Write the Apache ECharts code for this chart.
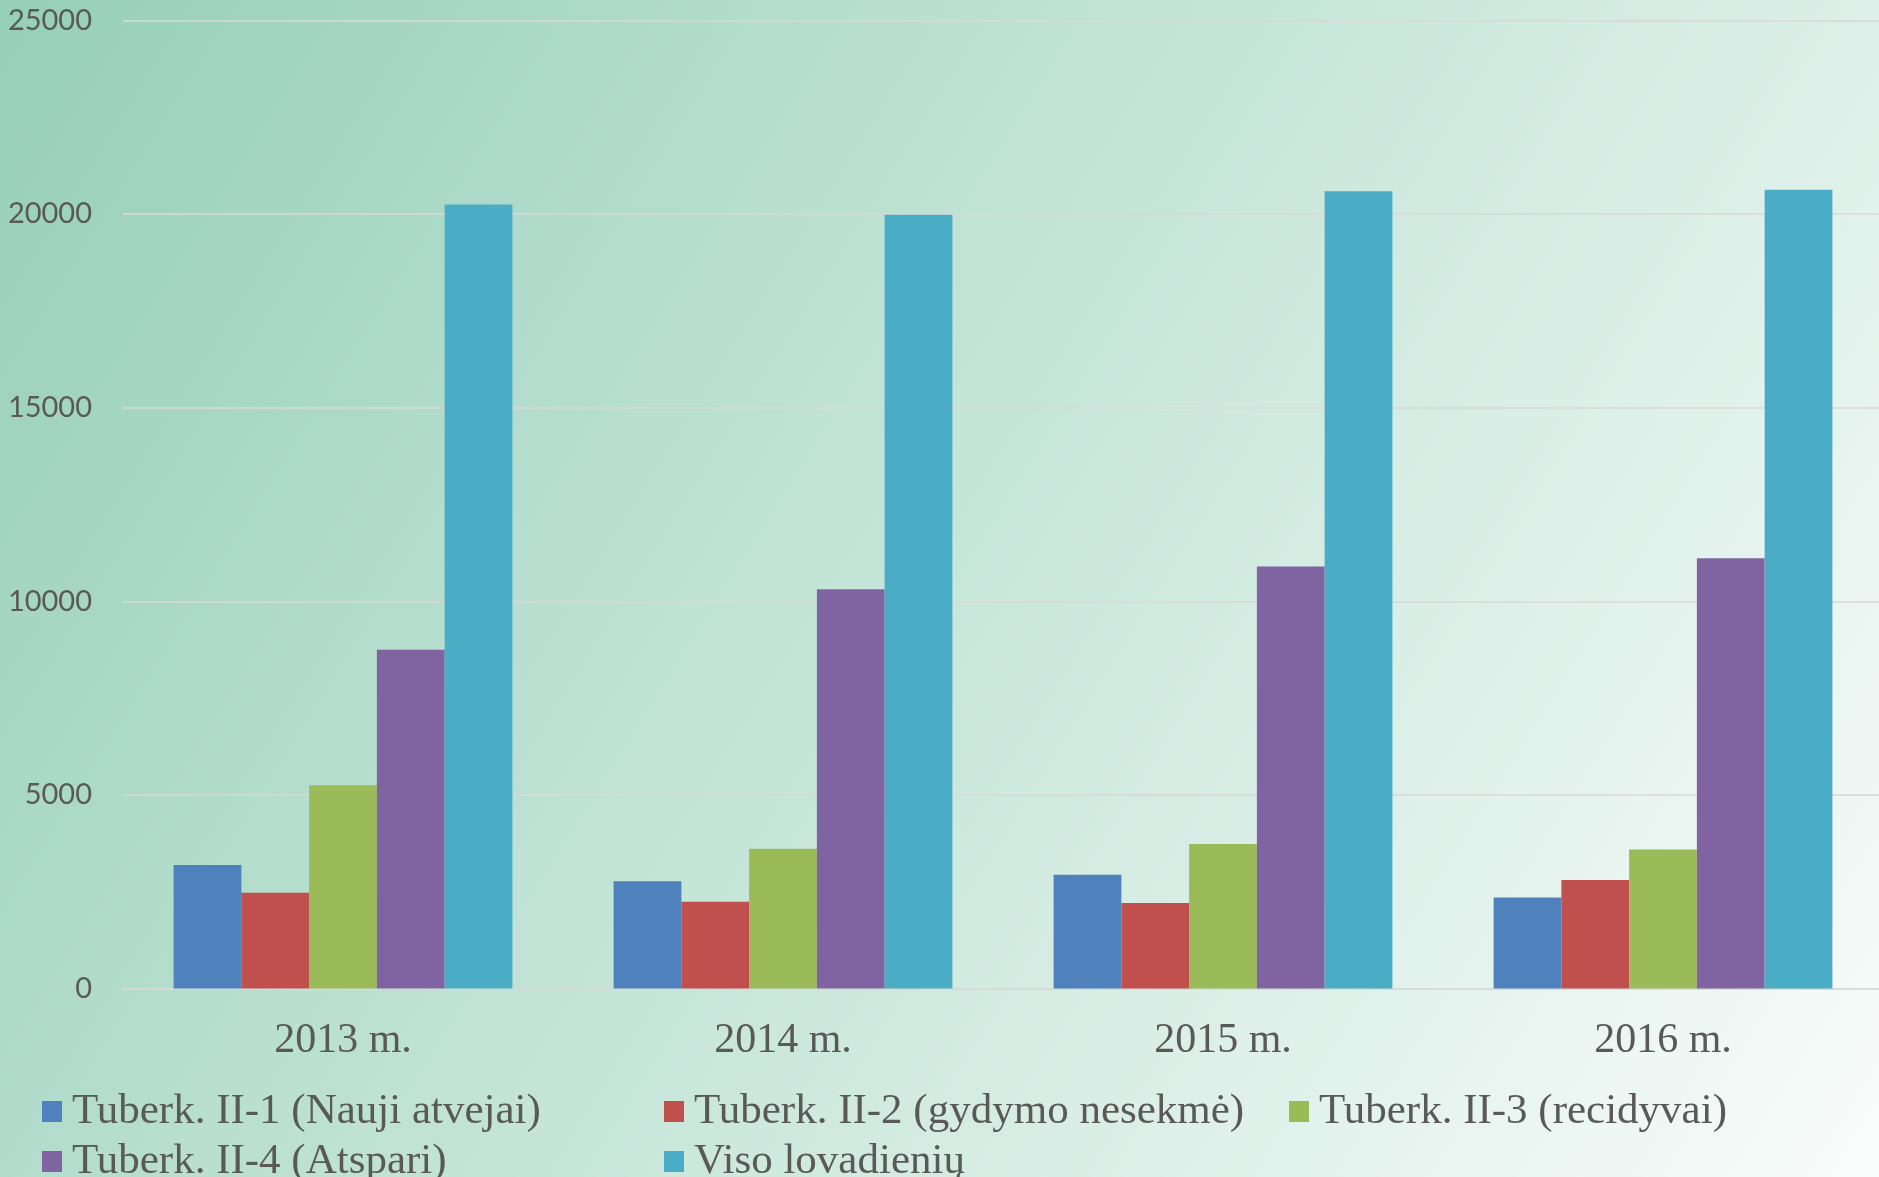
<!DOCTYPE html>
<html>
<head>
<meta charset="utf-8">
<script src="https://cdn.jsdelivr.net/npm/echarts@6/dist/echarts.min.js"></script>
<style>
html,body{margin:0;padding:0;}
#chart{width:1879px;height:1177px;}
</style>
</head>
<body>
<div id="chart"></div>
<script>
var categories = ['2013 m.', '2014 m.', '2015 m.', '2016 m.'];
var seriesNames = ['Tuberk. II-1 (Nauji atvejai)', 'Tuberk. II-2 (gydymo nesekmė)', 'Tuberk. II-3 (recidyvai)', 'Tuberk. II-4 (Atspari)', 'Viso lovadienių'];
var naujiAtvejai = [3190, 2770, 2940, 2350];
var gydymoNesekme = [2470, 2240, 2210, 2800];
var recidyvai = [5250, 3610, 3730, 3590];
var atspari = [8750, 10310, 10900, 11110];
var visoLovadieniu = [20250, 19980, 20590, 20630];
var yTicks = [0, 5000, 10000, 15000, 20000, 25000];

var colors = ['#4f81bd', '#c0504d', '#9bbb59', '#8064a2', '#4bacc6'];
var values = [naujiAtvejai, gydymoNesekme, recidyvai, atspari, visoLovadieniu];

var chart = echarts.init(document.getElementById('chart'));

var legendPos = [
  {left: 42, top: 1090},
  {left: 664, top: 1090},
  {left: 1289, top: 1090},
  {left: 42, top: 1140},
  {left: 664, top: 1140}
];

var legends = seriesNames.map(function (n, i) {
  return {
    data: [n],
    left: legendPos[i].left,
    top: legendPos[i].top,
    padding: 0,
    icon: 'rect',
    itemWidth: 20,
    itemHeight: 21,
    selectedMode: false,
    textStyle: {
      fontFamily: 'Liberation Serif',
      fontSize: 43,
      color: '#595959',
      padding: [0, 0, 0, 5]
    }
  };
});

var series = seriesNames.map(function (n, i) {
  return {
    name: n,
    type: 'bar',
    data: values[i],
    barGap: '0%',
    barCategoryGap: '23%',
    itemStyle: {color: colors[i]},
    animation: false
  };
});

chart.setOption({
  backgroundColor: new echarts.graphic.LinearGradient(0, 0, 1, 1, [
    {offset: 0, color: '#96cfb8'},
    {offset: 0.5, color: '#c7e6da'},
    {offset: 1, color: '#f9fcfb'}
  ]),
  animation: false,
  color: colors,
  legend: legends,
  grid: {
    left: 123,
    right: -4,
    top: 20.5,
    bottom: 188.5,
    containLabel: false,
    outerBoundsMode: 'none'
  },
  xAxis: {
    type: 'category',
    data: categories,
    axisTick: {show: false},
    axisLine: {show: true, lineStyle: {color: '#d9d9d9', width: 1.5}},
    axisLabel: {
      fontFamily: 'Liberation Serif',
      fontSize: 42,
      color: '#595959',
      margin: 31
    }
  },
  yAxis: {
    type: 'value',
    min: yTicks[0],
    max: yTicks[yTicks.length - 1],
    interval: yTicks[1] - yTicks[0],
    axisLine: {show: false},
    axisTick: {show: false},
    splitLine: {lineStyle: {color: '#d9d9d9', width: 1.5}},
    axisLabel: {
      fontFamily: 'Lato',
      fontSize: 29,
      color: '#595959',
      margin: 31,
      formatter: function (v) { return String(v); }
    }
  },
  series: series
});
</script>
</body>
</html>
